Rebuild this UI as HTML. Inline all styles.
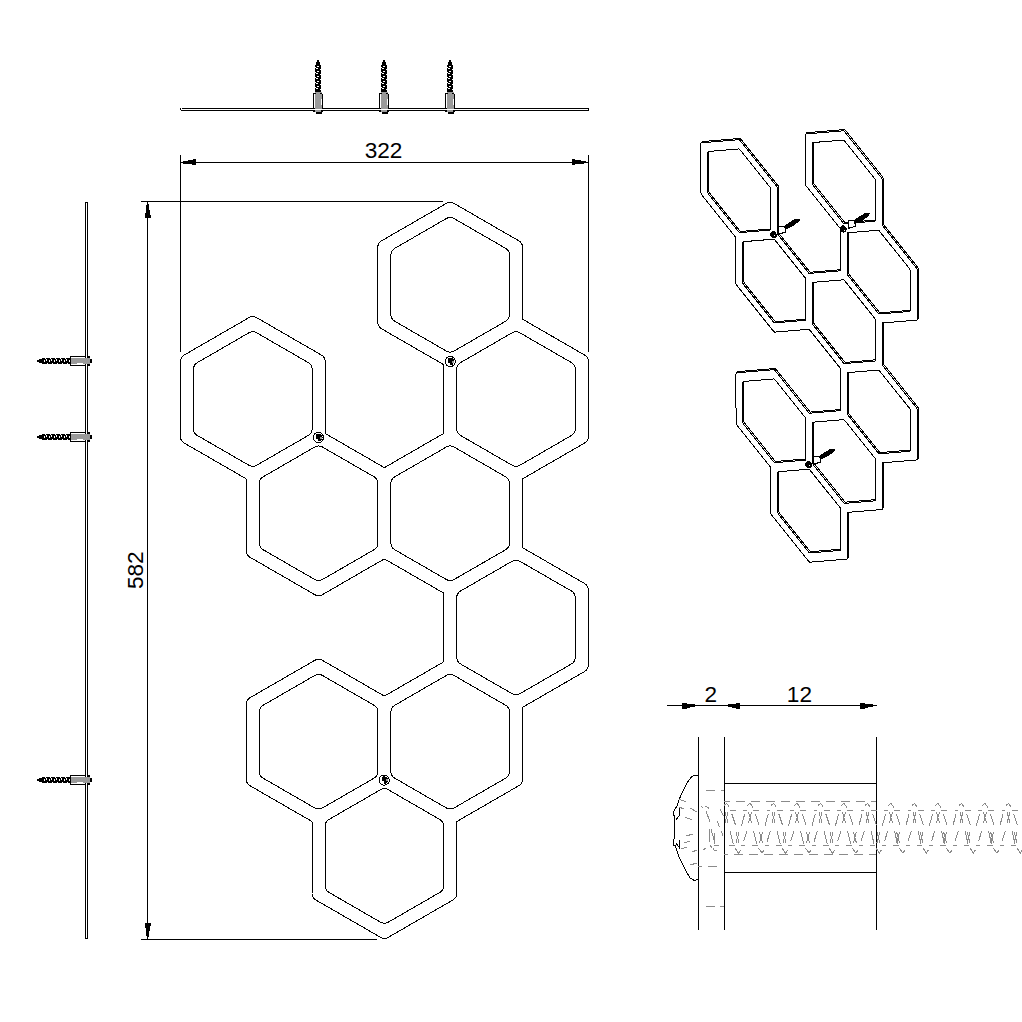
<!DOCTYPE html>
<html><head><meta charset="utf-8"><style>
html,body{margin:0;padding:0;background:#fff;}
svg{display:block;}
</style></head><body>
<svg width="1022" height="1022" viewBox="0 0 1022 1022" shape-rendering="crispEdges" font-family="Liberation Sans, sans-serif">
<rect width="1022" height="1022" fill="#fff"/>
<path d="M184.15,355.06 L182.88,355.99 L181.83,357.15 L181.05,358.51 L180.56,360.00 L180.40,361.56 L180.40,436.50 L180.56,438.06 L181.05,439.55 L181.83,440.91 L182.88,442.07 L184.15,443.00 L245.53,478.43 L245.65,478.51 L245.92,478.75 L246.04,478.92 L246.12,479.10 L246.19,479.46 L246.20,479.59 L246.20,550.73 L246.36,552.29 L246.85,553.78 L247.63,555.14 L248.68,556.30 L249.95,557.23 L314.85,594.70 L316.28,595.33 L317.82,595.66 L319.38,595.66 L320.92,595.33 L322.35,594.70 L383.73,559.26 L383.85,559.19 L384.20,559.08 L384.40,559.06 L384.60,559.08 L384.95,559.19 L385.07,559.26 L442.93,592.66 L443.05,592.74 L443.32,592.98 L443.44,593.15 L443.52,593.33 L443.59,593.69 L443.60,593.82 L443.60,661.16 L443.59,661.29 L443.52,661.65 L443.44,661.83 L443.32,662.00 L443.05,662.24 L442.93,662.32 L385.07,695.72 L384.95,695.79 L384.60,695.90 L384.40,695.92 L384.20,695.90 L383.85,695.79 L383.73,695.72 L322.35,660.28 L320.92,659.65 L319.38,659.32 L317.82,659.32 L316.28,659.65 L314.85,660.28 L249.95,697.75 L248.68,698.68 L247.63,699.84 L246.85,701.20 L246.36,702.69 L246.20,704.25 L246.20,779.19 L246.36,780.75 L246.85,782.24 L247.63,783.60 L248.68,784.76 L249.95,785.69 L311.33,821.12 L311.45,821.20 L311.72,821.44 L311.84,821.61 L311.92,821.79 L311.99,822.15 L312.00,822.28 L312.00,893.42 L312.16,894.98 L312.65,896.47 L313.43,897.83 L314.48,898.99 L315.75,899.92 L380.65,937.39 L382.08,938.02 L383.62,938.35 L385.18,938.35 L386.72,938.02 L388.15,937.39 L453.05,899.92 L454.32,898.99 L455.37,897.83 L456.15,896.47 L456.64,894.98 L456.80,893.42 L456.80,822.28 L456.81,822.15 L456.88,821.79 L456.96,821.61 L457.08,821.44 L457.35,821.20 L457.47,821.12 L518.85,785.69 L520.12,784.76 L521.17,783.60 L521.95,782.24 L522.44,780.75 L522.60,779.19 L522.60,708.05 L522.61,707.92 L522.68,707.56 L522.76,707.38 L522.88,707.21 L523.15,706.97 L523.27,706.89 L584.65,671.46 L585.92,670.53 L586.97,669.37 L587.75,668.01 L588.24,666.52 L588.40,664.96 L588.40,590.02 L588.24,588.46 L587.75,586.97 L586.97,585.61 L585.92,584.45 L584.65,583.52 L523.27,548.09 L523.15,548.01 L522.88,547.77 L522.76,547.60 L522.68,547.42 L522.61,547.06 L522.60,546.93 L522.60,479.59 L522.61,479.46 L522.68,479.10 L522.76,478.92 L522.88,478.75 L523.15,478.51 L523.27,478.43 L584.65,443.00 L585.92,442.07 L586.97,440.91 L587.75,439.55 L588.24,438.06 L588.40,436.50 L588.40,361.56 L588.24,360.00 L587.75,358.51 L586.97,357.15 L585.92,355.99 L584.65,355.06 L523.27,319.63 L523.15,319.55 L522.88,319.31 L522.76,319.14 L522.68,318.96 L522.61,318.60 L522.60,318.47 L522.60,247.33 L522.44,245.77 L521.95,244.28 L521.17,242.92 L520.12,241.76 L518.85,240.83 L453.95,203.36 L452.52,202.73 L450.98,202.40 L449.42,202.40 L447.88,202.73 L446.45,203.36 L381.55,240.83 L380.28,241.76 L379.23,242.92 L378.45,244.28 L377.96,245.77 L377.80,247.33 L377.80,322.27 L377.96,323.83 L378.45,325.32 L379.23,326.68 L380.28,327.84 L381.55,328.77 L442.93,364.20 L443.05,364.28 L443.32,364.52 L443.44,364.69 L443.52,364.87 L443.59,365.23 L443.60,365.36 L443.60,432.70 L443.59,432.83 L443.52,433.19 L443.44,433.37 L443.32,433.54 L443.05,433.78 L442.93,433.86 L385.07,467.26 L384.95,467.33 L384.60,467.44 L384.40,467.46 L384.20,467.44 L383.85,467.33 L383.73,467.26 L325.87,433.86 L325.75,433.78 L325.48,433.54 L325.36,433.37 L325.28,433.19 L325.21,432.83 L325.20,432.70 L325.20,361.56 L325.04,360.00 L324.55,358.51 L323.77,357.15 L322.72,355.99 L321.45,355.06 L256.55,317.59 L255.12,316.96 L253.58,316.63 L252.02,316.63 L250.48,316.96 L249.05,317.59 L184.15,355.06Z M453.95,218.49 L452.52,217.85 L450.98,217.53 L449.42,217.53 L447.88,217.85 L446.45,218.49 L394.65,248.40 L393.38,249.32 L392.33,250.48 L391.55,251.84 L391.06,253.33 L390.90,254.89 L390.90,314.71 L391.06,316.27 L391.55,317.76 L392.33,319.12 L393.38,320.28 L394.65,321.20 L446.45,351.11 L447.88,351.75 L449.42,352.07 L450.98,352.07 L452.52,351.75 L453.95,351.11 L505.75,321.20 L507.02,320.28 L508.07,319.12 L508.85,317.76 L509.34,316.27 L509.50,314.71 L509.50,254.89 L509.34,253.33 L508.85,251.84 L508.07,250.48 L507.02,249.32 L505.75,248.40 L453.95,218.49Z M519.75,332.72 L518.32,332.08 L516.78,331.76 L515.22,331.76 L513.68,332.08 L512.25,332.72 L460.45,362.63 L459.18,363.55 L458.13,364.71 L457.35,366.07 L456.86,367.56 L456.70,369.12 L456.70,428.94 L456.86,430.50 L457.35,431.99 L458.13,433.35 L459.18,434.51 L460.45,435.43 L512.25,465.34 L513.68,465.98 L515.22,466.30 L516.78,466.30 L518.32,465.98 L519.75,465.34 L571.55,435.43 L572.82,434.51 L573.87,433.35 L574.65,431.99 L575.14,430.50 L575.30,428.94 L575.30,369.12 L575.14,367.56 L574.65,366.07 L573.87,364.71 L572.82,363.55 L571.55,362.63 L519.75,332.72Z M256.55,332.72 L255.12,332.08 L253.58,331.76 L252.02,331.76 L250.48,332.08 L249.05,332.72 L197.25,362.63 L195.98,363.55 L194.93,364.71 L194.15,366.07 L193.66,367.56 L193.50,369.12 L193.50,428.94 L193.66,430.50 L194.15,431.99 L194.93,433.35 L195.98,434.51 L197.25,435.43 L249.05,465.34 L250.48,465.98 L252.02,466.30 L253.58,466.30 L255.12,465.98 L256.55,465.34 L308.35,435.43 L309.62,434.51 L310.67,433.35 L311.45,431.99 L311.94,430.50 L312.10,428.94 L312.10,369.12 L311.94,367.56 L311.45,366.07 L310.67,364.71 L309.62,363.55 L308.35,362.63 L256.55,332.72Z M322.35,446.95 L320.92,446.31 L319.38,445.99 L317.82,445.99 L316.28,446.31 L314.85,446.95 L263.05,476.86 L261.78,477.78 L260.73,478.94 L259.95,480.30 L259.46,481.79 L259.30,483.35 L259.30,543.17 L259.46,544.73 L259.95,546.22 L260.73,547.58 L261.78,548.74 L263.05,549.66 L314.85,579.57 L316.28,580.21 L317.82,580.53 L319.38,580.53 L320.92,580.21 L322.35,579.57 L374.15,549.66 L375.42,548.74 L376.47,547.58 L377.25,546.22 L377.74,544.73 L377.90,543.17 L377.90,483.35 L377.74,481.79 L377.25,480.30 L376.47,478.94 L375.42,477.78 L374.15,476.86 L322.35,446.95Z M453.95,446.95 L452.52,446.31 L450.98,445.99 L449.42,445.99 L447.88,446.31 L446.45,446.95 L394.65,476.86 L393.38,477.78 L392.33,478.94 L391.55,480.30 L391.06,481.79 L390.90,483.35 L390.90,543.17 L391.06,544.73 L391.55,546.22 L392.33,547.58 L393.38,548.74 L394.65,549.66 L446.45,579.57 L447.88,580.21 L449.42,580.53 L450.98,580.53 L452.52,580.21 L453.95,579.57 L505.75,549.66 L507.02,548.74 L508.07,547.58 L508.85,546.22 L509.34,544.73 L509.50,543.17 L509.50,483.35 L509.34,481.79 L508.85,480.30 L508.07,478.94 L507.02,477.78 L505.75,476.86 L453.95,446.95Z M519.75,561.18 L518.32,560.54 L516.78,560.22 L515.22,560.22 L513.68,560.54 L512.25,561.18 L460.45,591.09 L459.18,592.01 L458.13,593.17 L457.35,594.53 L456.86,596.02 L456.70,597.58 L456.70,657.40 L456.86,658.96 L457.35,660.45 L458.13,661.81 L459.18,662.97 L460.45,663.89 L512.25,693.80 L513.68,694.44 L515.22,694.76 L516.78,694.76 L518.32,694.44 L519.75,693.80 L571.55,663.89 L572.82,662.97 L573.87,661.81 L574.65,660.45 L575.14,658.96 L575.30,657.40 L575.30,597.58 L575.14,596.02 L574.65,594.53 L573.87,593.17 L572.82,592.01 L571.55,591.09 L519.75,561.18Z M322.35,675.41 L320.92,674.77 L319.38,674.45 L317.82,674.45 L316.28,674.77 L314.85,675.41 L263.05,705.32 L261.78,706.24 L260.73,707.40 L259.95,708.76 L259.46,710.25 L259.30,711.81 L259.30,771.63 L259.46,773.19 L259.95,774.68 L260.73,776.04 L261.78,777.20 L263.05,778.12 L314.85,808.03 L316.28,808.67 L317.82,808.99 L319.38,808.99 L320.92,808.67 L322.35,808.03 L374.15,778.12 L375.42,777.20 L376.47,776.04 L377.25,774.68 L377.74,773.19 L377.90,771.63 L377.90,711.81 L377.74,710.25 L377.25,708.76 L376.47,707.40 L375.42,706.24 L374.15,705.32 L322.35,675.41Z M453.95,675.41 L452.52,674.77 L450.98,674.45 L449.42,674.45 L447.88,674.77 L446.45,675.41 L394.65,705.32 L393.38,706.24 L392.33,707.40 L391.55,708.76 L391.06,710.25 L390.90,711.81 L390.90,771.63 L391.06,773.19 L391.55,774.68 L392.33,776.04 L393.38,777.20 L394.65,778.12 L446.45,808.03 L447.88,808.67 L449.42,808.99 L450.98,808.99 L452.52,808.67 L453.95,808.03 L505.75,778.12 L507.02,777.20 L508.07,776.04 L508.85,774.68 L509.34,773.19 L509.50,771.63 L509.50,711.81 L509.34,710.25 L508.85,708.76 L508.07,707.40 L507.02,706.24 L505.75,705.32 L453.95,675.41Z M388.15,789.64 L386.72,789.00 L385.18,788.68 L383.62,788.68 L382.08,789.00 L380.65,789.64 L328.85,819.55 L327.58,820.47 L326.53,821.63 L325.75,822.99 L325.26,824.48 L325.10,826.04 L325.10,885.86 L325.26,887.42 L325.75,888.91 L326.53,890.27 L327.58,891.43 L328.85,892.35 L380.65,922.26 L382.08,922.90 L383.62,923.22 L385.18,923.22 L386.72,922.90 L388.15,922.26 L439.95,892.35 L441.22,891.43 L442.27,890.27 L443.05,888.91 L443.54,887.42 L443.70,885.86 L443.70,826.04 L443.54,824.48 L443.05,822.99 L442.27,821.63 L441.22,820.47 L439.95,819.55 L388.15,789.64Z" fill="none" stroke="#000" stroke-width="1"/>
<circle cx="318.4" cy="437.5" r="5.1" fill="#fff" stroke="#000" stroke-width="1"/>
<path d="M316.10,434.00 L319.20,433.80 L322.00,435.10 L322.60,437.80 L321.20,440.30 L318.90,441.30 L317.20,439.30 L315.90,437.80Z" fill="#000"/>
<rect x="320" y="437" width="2" height="2" fill="#999" shape-rendering="crispEdges"/>
<rect x="316" y="439" width="2" height="2" fill="#fff" shape-rendering="crispEdges"/>
<circle cx="450.2" cy="361.5" r="5.1" fill="#fff" stroke="#000" stroke-width="1"/>
<path d="M447.90,358.00 L451.00,357.80 L453.80,359.10 L454.40,361.80 L453.00,364.30 L450.70,365.30 L449.00,363.30 L447.70,361.80Z" fill="#000"/>
<rect x="452" y="361" width="2" height="2" fill="#999" shape-rendering="crispEdges"/>
<rect x="448" y="363" width="2" height="2" fill="#fff" shape-rendering="crispEdges"/>
<circle cx="384.2" cy="780.1" r="5.1" fill="#fff" stroke="#000" stroke-width="1"/>
<path d="M381.90,776.60 L385.00,776.40 L387.80,777.70 L388.40,780.40 L387.00,782.90 L384.70,783.90 L383.00,781.90 L381.70,780.40Z" fill="#000"/>
<rect x="386" y="779" width="2" height="2" fill="#999" shape-rendering="crispEdges"/>
<rect x="382" y="781" width="2" height="2" fill="#fff" shape-rendering="crispEdges"/>
<g shape-rendering="crispEdges" fill="#000">
<rect x="180" y="155" width="1" height="197"/>
<rect x="588" y="155" width="1" height="197"/>
<rect x="181" y="162" width="407" height="1"/>
<rect x="183" y="161" width="5" height="3"/><rect x="188" y="160" width="5" height="4"/><rect x="192" y="164" width="4" height="1"/><rect x="193" y="159" width="3" height="6"/>
<rect x="572" y="159" width="3" height="6"/><rect x="575" y="160" width="6" height="4"/><rect x="581" y="161" width="5" height="2"/><rect x="581" y="163" width="3" height="1"/>
<rect x="147" y="202" width="1" height="737"/>
<rect x="141" y="201" width="302" height="1"/>
<rect x="141" y="939" width="236" height="1"/>
<rect x="147" y="204" width="2" height="1"/><rect x="146" y="205" width="3" height="5"/><rect x="146" y="210" width="4" height="3"/><rect x="145" y="213" width="5" height="2"/><rect x="145" y="215" width="6" height="3"/>
<rect x="145" y="923" width="6" height="3"/><rect x="145" y="926" width="5" height="2"/><rect x="146" y="928" width="4" height="3"/><rect x="146" y="931" width="3" height="5"/><rect x="147" y="936" width="2" height="1"/>
</g>
<text x="383.5" y="157.9" font-size="22.6" text-anchor="middle" font-family="Liberation Sans, sans-serif">322</text>
<text transform="translate(143.2,570.2) rotate(-90)" x="0" y="0" font-size="22.6" text-anchor="middle" font-family="Liberation Sans, sans-serif">582</text>
<g shape-rendering="crispEdges">
<rect x="182" y="108" width="406" height="1" fill="#000"/>
<rect x="181" y="110" width="407" height="1" fill="#000"/>
<rect x="180" y="108" width="1" height="2" fill="#000"/>
<rect x="588" y="108" width="1" height="3" fill="#000"/>
<rect x="315" y="92" width="7" height="17" fill="#9a9a9a"/><rect x="321" y="99" width="1" height="6" fill="#fff"/><rect x="317" y="60" width="2" height="2" fill="#000"/><rect x="316" y="62" width="4" height="3" fill="#000"/><rect x="315" y="65" width="6" height="27" fill="#000"/><rect x="317" y="66" width="2" height="1" fill="#fff"/><rect x="315" y="67" width="1" height="1" fill="#fff"/><rect x="316" y="68" width="2" height="1" fill="#fff"/><rect x="320" y="69" width="1" height="1" fill="#fff"/><rect x="317" y="71" width="2" height="1" fill="#fff"/><rect x="315" y="72" width="1" height="1" fill="#fff"/><rect x="316" y="73" width="2" height="1" fill="#fff"/><rect x="320" y="74" width="1" height="1" fill="#fff"/><rect x="317" y="76" width="2" height="1" fill="#fff"/><rect x="315" y="77" width="1" height="1" fill="#fff"/><rect x="316" y="78" width="2" height="1" fill="#fff"/><rect x="320" y="79" width="1" height="1" fill="#fff"/><rect x="317" y="81" width="2" height="1" fill="#fff"/><rect x="315" y="82" width="1" height="1" fill="#fff"/><rect x="316" y="83" width="2" height="1" fill="#fff"/><rect x="320" y="84" width="1" height="1" fill="#fff"/><rect x="317" y="86" width="2" height="1" fill="#fff"/><rect x="315" y="87" width="1" height="1" fill="#fff"/><rect x="316" y="88" width="2" height="1" fill="#fff"/><rect x="320" y="89" width="1" height="1" fill="#fff"/><rect x="313" y="93" width="3" height="1" fill="#000"/><rect x="313" y="93" width="1" height="15" fill="#000"/><rect x="322" y="94" width="1" height="14" fill="#000"/><rect x="320" y="93" width="2" height="1" fill="#000"/><rect x="313" y="110" width="2" height="2" fill="#000"/><rect x="321" y="110" width="2" height="2" fill="#000"/><rect x="316" y="112" width="6" height="2" fill="#000"/><rect x="315" y="110" width="6" height="2" fill="#9a9a9a"/>
<rect x="381" y="92" width="7" height="17" fill="#9a9a9a"/><rect x="387" y="99" width="1" height="6" fill="#fff"/><rect x="383" y="60" width="2" height="2" fill="#000"/><rect x="382" y="62" width="4" height="3" fill="#000"/><rect x="381" y="65" width="6" height="27" fill="#000"/><rect x="383" y="66" width="2" height="1" fill="#fff"/><rect x="381" y="67" width="1" height="1" fill="#fff"/><rect x="382" y="68" width="2" height="1" fill="#fff"/><rect x="386" y="69" width="1" height="1" fill="#fff"/><rect x="383" y="71" width="2" height="1" fill="#fff"/><rect x="381" y="72" width="1" height="1" fill="#fff"/><rect x="382" y="73" width="2" height="1" fill="#fff"/><rect x="386" y="74" width="1" height="1" fill="#fff"/><rect x="383" y="76" width="2" height="1" fill="#fff"/><rect x="381" y="77" width="1" height="1" fill="#fff"/><rect x="382" y="78" width="2" height="1" fill="#fff"/><rect x="386" y="79" width="1" height="1" fill="#fff"/><rect x="383" y="81" width="2" height="1" fill="#fff"/><rect x="381" y="82" width="1" height="1" fill="#fff"/><rect x="382" y="83" width="2" height="1" fill="#fff"/><rect x="386" y="84" width="1" height="1" fill="#fff"/><rect x="383" y="86" width="2" height="1" fill="#fff"/><rect x="381" y="87" width="1" height="1" fill="#fff"/><rect x="382" y="88" width="2" height="1" fill="#fff"/><rect x="386" y="89" width="1" height="1" fill="#fff"/><rect x="379" y="93" width="3" height="1" fill="#000"/><rect x="379" y="93" width="1" height="15" fill="#000"/><rect x="388" y="94" width="1" height="14" fill="#000"/><rect x="386" y="93" width="2" height="1" fill="#000"/><rect x="379" y="110" width="2" height="2" fill="#000"/><rect x="387" y="110" width="2" height="2" fill="#000"/><rect x="382" y="112" width="6" height="2" fill="#000"/><rect x="381" y="110" width="6" height="2" fill="#9a9a9a"/>
<rect x="447" y="92" width="7" height="17" fill="#9a9a9a"/><rect x="453" y="99" width="1" height="6" fill="#fff"/><rect x="449" y="60" width="2" height="2" fill="#000"/><rect x="448" y="62" width="4" height="3" fill="#000"/><rect x="447" y="65" width="6" height="27" fill="#000"/><rect x="449" y="66" width="2" height="1" fill="#fff"/><rect x="447" y="67" width="1" height="1" fill="#fff"/><rect x="448" y="68" width="2" height="1" fill="#fff"/><rect x="452" y="69" width="1" height="1" fill="#fff"/><rect x="449" y="71" width="2" height="1" fill="#fff"/><rect x="447" y="72" width="1" height="1" fill="#fff"/><rect x="448" y="73" width="2" height="1" fill="#fff"/><rect x="452" y="74" width="1" height="1" fill="#fff"/><rect x="449" y="76" width="2" height="1" fill="#fff"/><rect x="447" y="77" width="1" height="1" fill="#fff"/><rect x="448" y="78" width="2" height="1" fill="#fff"/><rect x="452" y="79" width="1" height="1" fill="#fff"/><rect x="449" y="81" width="2" height="1" fill="#fff"/><rect x="447" y="82" width="1" height="1" fill="#fff"/><rect x="448" y="83" width="2" height="1" fill="#fff"/><rect x="452" y="84" width="1" height="1" fill="#fff"/><rect x="449" y="86" width="2" height="1" fill="#fff"/><rect x="447" y="87" width="1" height="1" fill="#fff"/><rect x="448" y="88" width="2" height="1" fill="#fff"/><rect x="452" y="89" width="1" height="1" fill="#fff"/><rect x="445" y="93" width="3" height="1" fill="#000"/><rect x="445" y="93" width="1" height="15" fill="#000"/><rect x="454" y="94" width="1" height="14" fill="#000"/><rect x="452" y="93" width="2" height="1" fill="#000"/><rect x="445" y="110" width="2" height="2" fill="#000"/><rect x="453" y="110" width="2" height="2" fill="#000"/><rect x="448" y="112" width="6" height="2" fill="#000"/><rect x="447" y="110" width="6" height="2" fill="#9a9a9a"/>
</g>
<g shape-rendering="crispEdges">
<rect x="85" y="202" width="1" height="737" fill="#000"/>
<rect x="87" y="202" width="1" height="737" fill="#000"/>
<rect x="85" y="202" width="3" height="1" fill="#000"/>
<rect x="85" y="938" width="3" height="1" fill="#000"/>
<rect x="71" y="358" width="19" height="6" fill="#9a9a9a"/><rect x="77" y="363" width="6" height="1" fill="#fff"/><rect x="37" y="360" width="2" height="2" fill="#000"/><rect x="39" y="359" width="3" height="4" fill="#000"/><rect x="42" y="358" width="28" height="6" fill="#000"/><rect x="44" y="360" width="1" height="2" fill="#fff"/><rect x="45" y="358" width="1" height="1" fill="#fff"/><rect x="46" y="359" width="1" height="2" fill="#fff"/><rect x="47" y="363" width="1" height="1" fill="#fff"/><rect x="49" y="360" width="1" height="2" fill="#fff"/><rect x="50" y="358" width="1" height="1" fill="#fff"/><rect x="51" y="359" width="1" height="2" fill="#fff"/><rect x="52" y="363" width="1" height="1" fill="#fff"/><rect x="54" y="360" width="1" height="2" fill="#fff"/><rect x="55" y="358" width="1" height="1" fill="#fff"/><rect x="56" y="359" width="1" height="2" fill="#fff"/><rect x="57" y="363" width="1" height="1" fill="#fff"/><rect x="59" y="360" width="1" height="2" fill="#fff"/><rect x="60" y="358" width="1" height="1" fill="#fff"/><rect x="61" y="359" width="1" height="2" fill="#fff"/><rect x="62" y="363" width="1" height="1" fill="#fff"/><rect x="64" y="360" width="1" height="2" fill="#fff"/><rect x="65" y="358" width="1" height="1" fill="#fff"/><rect x="66" y="359" width="1" height="2" fill="#fff"/><rect x="67" y="363" width="1" height="1" fill="#fff"/><rect x="69" y="360" width="1" height="2" fill="#fff"/><rect x="70" y="358" width="1" height="1" fill="#fff"/><rect x="70" y="356" width="16" height="1" fill="#000"/><rect x="70" y="365" width="16" height="1" fill="#000"/><rect x="70" y="356" width="1" height="10" fill="#000"/><rect x="88" y="356" width="2" height="2" fill="#000"/><rect x="88" y="364" width="2" height="2" fill="#000"/><rect x="90" y="359" width="2" height="4" fill="#000"/><rect x="88" y="358" width="2" height="6" fill="#9a9a9a"/>
<rect x="71" y="434" width="19" height="6" fill="#9a9a9a"/><rect x="77" y="439" width="6" height="1" fill="#fff"/><rect x="37" y="436" width="2" height="2" fill="#000"/><rect x="39" y="435" width="3" height="4" fill="#000"/><rect x="42" y="434" width="28" height="6" fill="#000"/><rect x="44" y="436" width="1" height="2" fill="#fff"/><rect x="45" y="434" width="1" height="1" fill="#fff"/><rect x="46" y="435" width="1" height="2" fill="#fff"/><rect x="47" y="439" width="1" height="1" fill="#fff"/><rect x="49" y="436" width="1" height="2" fill="#fff"/><rect x="50" y="434" width="1" height="1" fill="#fff"/><rect x="51" y="435" width="1" height="2" fill="#fff"/><rect x="52" y="439" width="1" height="1" fill="#fff"/><rect x="54" y="436" width="1" height="2" fill="#fff"/><rect x="55" y="434" width="1" height="1" fill="#fff"/><rect x="56" y="435" width="1" height="2" fill="#fff"/><rect x="57" y="439" width="1" height="1" fill="#fff"/><rect x="59" y="436" width="1" height="2" fill="#fff"/><rect x="60" y="434" width="1" height="1" fill="#fff"/><rect x="61" y="435" width="1" height="2" fill="#fff"/><rect x="62" y="439" width="1" height="1" fill="#fff"/><rect x="64" y="436" width="1" height="2" fill="#fff"/><rect x="65" y="434" width="1" height="1" fill="#fff"/><rect x="66" y="435" width="1" height="2" fill="#fff"/><rect x="67" y="439" width="1" height="1" fill="#fff"/><rect x="69" y="436" width="1" height="2" fill="#fff"/><rect x="70" y="434" width="1" height="1" fill="#fff"/><rect x="70" y="432" width="16" height="1" fill="#000"/><rect x="70" y="441" width="16" height="1" fill="#000"/><rect x="70" y="432" width="1" height="10" fill="#000"/><rect x="88" y="432" width="2" height="2" fill="#000"/><rect x="88" y="440" width="2" height="2" fill="#000"/><rect x="90" y="435" width="2" height="4" fill="#000"/><rect x="88" y="434" width="2" height="6" fill="#9a9a9a"/>
<rect x="71" y="777" width="19" height="6" fill="#9a9a9a"/><rect x="77" y="782" width="6" height="1" fill="#fff"/><rect x="37" y="779" width="2" height="2" fill="#000"/><rect x="39" y="778" width="3" height="4" fill="#000"/><rect x="42" y="777" width="28" height="6" fill="#000"/><rect x="44" y="779" width="1" height="2" fill="#fff"/><rect x="45" y="777" width="1" height="1" fill="#fff"/><rect x="46" y="778" width="1" height="2" fill="#fff"/><rect x="47" y="782" width="1" height="1" fill="#fff"/><rect x="49" y="779" width="1" height="2" fill="#fff"/><rect x="50" y="777" width="1" height="1" fill="#fff"/><rect x="51" y="778" width="1" height="2" fill="#fff"/><rect x="52" y="782" width="1" height="1" fill="#fff"/><rect x="54" y="779" width="1" height="2" fill="#fff"/><rect x="55" y="777" width="1" height="1" fill="#fff"/><rect x="56" y="778" width="1" height="2" fill="#fff"/><rect x="57" y="782" width="1" height="1" fill="#fff"/><rect x="59" y="779" width="1" height="2" fill="#fff"/><rect x="60" y="777" width="1" height="1" fill="#fff"/><rect x="61" y="778" width="1" height="2" fill="#fff"/><rect x="62" y="782" width="1" height="1" fill="#fff"/><rect x="64" y="779" width="1" height="2" fill="#fff"/><rect x="65" y="777" width="1" height="1" fill="#fff"/><rect x="66" y="778" width="1" height="2" fill="#fff"/><rect x="67" y="782" width="1" height="1" fill="#fff"/><rect x="69" y="779" width="1" height="2" fill="#fff"/><rect x="70" y="777" width="1" height="1" fill="#fff"/><rect x="70" y="775" width="16" height="1" fill="#000"/><rect x="70" y="784" width="16" height="1" fill="#000"/><rect x="70" y="775" width="1" height="10" fill="#000"/><rect x="88" y="775" width="2" height="2" fill="#000"/><rect x="88" y="783" width="2" height="2" fill="#000"/><rect x="90" y="778" width="2" height="4" fill="#000"/><rect x="88" y="777" width="2" height="6" fill="#9a9a9a"/>
</g>
<path d="M702.07,141.98 L702.01,142.02 L701.87,142.22 L701.81,142.26 L701.67,142.46 L701.61,142.50 L701.47,142.70 L701.41,142.74 L701.27,142.94 L701.21,142.98 L701.05,143.22 L700.94,143.52 L700.91,143.89 L700.96,192.92 L700.99,193.33 L701.10,193.75 L701.26,194.18 L701.49,194.59 L701.75,194.98 L735.55,237.19 L735.61,237.27 L735.71,237.43 L735.77,237.57 L735.82,237.71 L735.85,237.88 L735.85,237.97 L735.89,283.16 L735.93,283.56 L736.03,283.99 L736.20,284.42 L736.42,284.83 L736.69,285.21 L773.49,331.18 L773.79,331.52 L774.12,331.78 L774.45,331.98 L774.78,332.09 L775.08,332.11 L808.83,329.29 L808.90,329.29 L809.02,329.32 L809.13,329.37 L809.24,329.44 L809.37,329.56 L809.43,329.64 L840.22,368.10 L840.28,368.18 L840.38,368.34 L840.45,368.48 L840.49,368.62 L840.52,368.79 L840.52,368.88 L840.56,409.51 L810.51,412.02 L810.45,412.02 L810.32,411.99 L810.21,411.94 L810.10,411.87 L809.98,411.75 L809.91,411.67 L776.12,369.46 L775.81,369.12 L775.49,368.85 L775.16,368.66 L774.83,368.55 L774.53,368.53 L737.78,371.60 L737.51,371.67 L737.28,371.82 L737.15,372.02 L737.08,372.06 L736.95,372.26 L736.88,372.30 L736.75,372.50 L736.68,372.54 L736.55,372.74 L736.48,372.78 L736.35,372.98 L736.28,373.02 L736.12,373.26 L736.02,373.56 L735.98,373.92 L736.03,422.96 L736.06,423.36 L736.17,423.79 L736.33,424.22 L736.56,424.63 L736.83,425.02 L770.62,467.23 L770.68,467.31 L770.78,467.47 L770.85,467.61 L770.89,467.75 L770.92,467.92 L770.92,468.01 L770.97,513.20 L771.00,513.60 L771.10,514.03 L771.27,514.46 L771.49,514.87 L771.76,515.25 L808.56,561.22 L808.87,561.55 L809.19,561.82 L809.52,562.02 L809.85,562.13 L810.15,562.15 L846.90,559.08 L847.17,559.01 L847.39,558.85 L847.53,558.66 L847.59,558.61 L847.73,558.42 L847.79,558.37 L847.93,558.18 L847.99,558.13 L848.13,557.94 L848.19,557.89 L848.33,557.70 L848.39,557.65 L848.56,557.42 L848.66,557.11 L848.70,556.75 L848.65,512.27 L881.70,509.51 L881.97,509.44 L882.19,509.29 L882.33,509.09 L882.39,509.05 L882.53,508.85 L882.59,508.81 L882.73,508.61 L882.79,508.57 L882.93,508.37 L882.99,508.33 L883.13,508.13 L883.19,508.09 L883.36,507.85 L883.46,507.55 L883.50,507.19 L883.45,462.71 L916.50,459.95 L916.77,459.88 L916.99,459.72 L917.13,459.53 L917.19,459.48 L917.33,459.29 L917.39,459.24 L917.53,459.05 L917.59,459.00 L917.73,458.81 L917.79,458.76 L917.93,458.57 L917.99,458.52 L918.16,458.29 L918.26,457.98 L918.30,457.62 L918.25,408.58 L918.21,408.18 L918.11,407.76 L917.94,407.33 L917.72,406.91 L917.45,406.53 L883.66,364.32 L883.60,364.24 L883.50,364.07 L883.43,363.93 L883.39,363.79 L883.36,363.63 L883.36,363.54 L883.32,322.91 L916.37,320.15 L916.64,320.08 L916.86,319.92 L917.00,319.73 L917.06,319.68 L917.20,319.49 L917.26,319.44 L917.40,319.25 L917.46,319.20 L917.60,319.01 L917.66,318.96 L917.80,318.77 L917.86,318.72 L918.02,318.49 L918.13,318.18 L918.16,317.82 L918.11,268.78 L918.08,268.38 L917.98,267.96 L917.81,267.53 L917.59,267.11 L917.32,266.73 L883.52,224.52 L883.46,224.43 L883.36,224.27 L883.30,224.13 L883.25,223.99 L883.23,223.83 L883.22,223.74 L883.18,178.55 L883.14,178.14 L883.04,177.72 L882.87,177.29 L882.65,176.87 L882.38,176.49 L845.58,130.52 L845.28,130.19 L844.95,129.92 L844.62,129.73 L844.30,129.62 L843.99,129.60 L807.24,132.67 L806.97,132.74 L806.75,132.89 L806.61,133.09 L806.55,133.13 L806.41,133.33 L806.35,133.37 L806.21,133.57 L806.15,133.61 L806.01,133.81 L805.95,133.85 L805.81,134.05 L805.75,134.09 L805.58,134.33 L805.48,134.63 L805.45,134.99 L805.49,184.03 L805.53,184.43 L805.63,184.86 L805.80,185.29 L806.02,185.70 L806.29,186.08 L840.08,228.30 L840.15,228.38 L840.25,228.54 L840.31,228.68 L840.35,228.82 L840.38,228.99 L840.39,229.08 L840.43,269.71 L810.38,272.22 L810.31,272.22 L810.19,272.19 L810.08,272.14 L809.97,272.07 L809.84,271.94 L809.78,271.87 L778.99,233.41 L778.92,233.33 L778.83,233.17 L778.76,233.03 L778.72,232.88 L778.69,232.72 L778.69,232.63 L778.64,187.44 L778.61,187.04 L778.50,186.61 L778.34,186.18 L778.11,185.77 L777.84,185.38 L741.05,139.42 L740.74,139.08 L740.42,138.81 L740.08,138.62 L739.76,138.51 L739.46,138.49 L702.70,141.56 L702.43,141.63 L702.21,141.78 L702.07,141.98Z M845.67,222.52 L845.37,222.50 L845.04,222.39 L844.71,222.20 L844.38,221.93 L844.08,221.60 L814.23,184.31 L813.96,183.92 L813.74,183.51 L813.57,183.08 L813.47,182.65 L813.43,182.25 L813.39,142.53 L843.00,140.05 L843.30,140.07 L843.63,140.18 L843.96,140.38 L844.29,140.65 L844.59,140.98 L874.44,178.27 L874.71,178.65 L874.94,179.07 L875.10,179.50 L875.20,179.92 L875.24,180.32 L875.28,220.05 L845.67,222.52Z M741.13,231.42 L740.83,231.39 L740.51,231.28 L740.17,231.09 L739.85,230.82 L739.54,230.49 L709.69,193.20 L709.42,192.82 L709.20,192.40 L709.03,191.97 L708.93,191.55 L708.90,191.14 L708.86,151.42 L738.46,148.95 L738.77,148.97 L739.09,149.08 L739.43,149.27 L739.75,149.54 L740.05,149.87 L769.91,187.16 L770.18,187.55 L770.40,187.96 L770.57,188.39 L770.67,188.82 L770.70,189.22 L770.74,228.94 L741.13,231.42Z M880.61,312.76 L880.30,312.74 L879.98,312.63 L879.65,312.44 L879.32,312.17 L879.02,311.83 L849.16,274.54 L848.89,274.16 L848.67,273.75 L848.51,273.32 L848.40,272.89 L848.37,272.49 L848.33,232.76 L877.94,230.29 L878.24,230.31 L878.57,230.42 L878.90,230.62 L879.22,230.88 L879.53,231.22 L909.38,268.51 L909.65,268.89 L909.87,269.31 L910.04,269.74 L910.14,270.16 L910.18,270.56 L910.21,310.29 L880.61,312.76Z M776.07,321.65 L775.77,321.63 L775.44,321.52 L775.11,321.33 L774.78,321.06 L774.48,320.73 L744.63,283.43 L744.36,283.05 L744.14,282.64 L743.97,282.21 L743.87,281.78 L743.83,281.38 L743.79,241.66 L773.40,239.18 L773.70,239.20 L774.03,239.31 L774.36,239.51 L774.69,239.78 L774.99,240.11 L804.84,277.40 L805.11,277.78 L805.34,278.20 L805.50,278.63 L805.60,279.05 L805.64,279.45 L805.68,319.18 L776.07,321.65Z M845.81,362.33 L845.50,362.30 L845.18,362.19 L844.85,362.00 L844.52,361.73 L844.22,361.40 L814.36,324.11 L814.09,323.72 L813.87,323.31 L813.71,322.88 L813.60,322.46 L813.57,322.05 L813.53,282.33 L843.14,279.86 L843.44,279.88 L843.77,279.99 L844.10,280.18 L844.42,280.45 L844.73,280.78 L874.58,318.07 L874.85,318.46 L875.07,318.87 L875.24,319.30 L875.34,319.72 L875.38,320.13 L875.41,359.85 L845.81,362.33Z M880.74,452.56 L880.44,452.54 L880.11,452.43 L879.78,452.24 L879.46,451.97 L879.15,451.63 L849.30,414.34 L849.03,413.96 L848.81,413.55 L848.64,413.12 L848.54,412.69 L848.50,412.29 L848.46,372.57 L878.07,370.09 L878.38,370.11 L878.70,370.22 L879.03,370.42 L879.36,370.69 L879.66,371.02 L909.52,408.31 L909.78,408.69 L910.01,409.11 L910.17,409.54 L910.28,409.96 L910.31,410.36 L910.35,450.09 L880.74,452.56Z M776.21,461.45 L775.90,461.43 L775.58,461.32 L775.25,461.13 L774.92,460.86 L774.62,460.53 L744.76,423.24 L744.49,422.85 L744.27,422.44 L744.11,422.01 L744.00,421.59 L743.97,421.18 L743.93,381.46 L773.54,378.98 L773.84,379.01 L774.16,379.12 L774.50,379.31 L774.82,379.58 L775.13,379.91 L804.98,417.20 L805.25,417.59 L805.47,418.00 L805.64,418.43 L805.74,418.85 L805.78,419.26 L805.81,458.98 L776.21,461.45Z M845.94,502.13 L845.64,502.11 L845.31,502.00 L844.98,501.80 L844.66,501.53 L844.35,501.20 L814.50,463.91 L814.23,463.53 L814.01,463.11 L813.84,462.68 L813.74,462.26 L813.70,461.86 L813.66,422.13 L843.27,419.66 L843.58,419.68 L843.90,419.79 L844.23,419.98 L844.56,420.25 L844.86,420.58 L874.72,457.88 L874.98,458.26 L875.21,458.67 L875.37,459.10 L875.48,459.53 L875.51,459.93 L875.55,499.65 L845.94,502.13Z M811.14,551.69 L810.84,551.67 L810.51,551.56 L810.18,551.37 L809.86,551.10 L809.55,550.76 L779.70,513.47 L779.43,513.09 L779.21,512.68 L779.04,512.25 L778.94,511.82 L778.90,511.42 L778.86,471.70 L808.47,469.22 L808.78,469.24 L809.10,469.35 L809.43,469.55 L809.76,469.82 L810.06,470.15 L839.92,507.44 L840.18,507.82 L840.41,508.24 L840.57,508.67 L840.68,509.09 L840.71,509.49 L840.75,549.22 L811.14,551.69Z" fill="none" stroke="#000" stroke-width="1"/>
<path d="M701.43,142.83 L701.21,142.98 L701.05,143.22 L700.94,143.52 L700.91,143.89 L700.96,192.92 L700.99,193.33 L701.10,193.75 L701.26,194.18 L701.49,194.59 L701.75,194.98 L735.55,237.19 L735.61,237.27 L735.71,237.43 L735.77,237.57 L735.82,237.71 L735.85,237.88 L735.85,237.97 L735.89,283.16 L735.93,283.56 L736.03,283.99 L736.20,284.42 L736.42,284.83 L736.69,285.21 L773.49,331.18 L773.79,331.52 L774.12,331.78 L774.45,331.98 L774.78,332.09 L775.08,332.11 L808.83,329.29 L808.90,329.29 L809.02,329.32 L809.13,329.37 L809.24,329.44 L809.37,329.56 L809.43,329.64 L840.22,368.10 L840.28,368.18 L840.38,368.34 L840.45,368.48 L840.49,368.62 L840.52,368.79 L840.52,368.88 L840.56,410.22 L840.56,410.31 L840.53,410.44 L840.49,410.53 L840.42,410.60 L840.32,410.64 L840.26,410.65 L809.51,413.22 L809.45,413.22 L809.32,413.19 L809.21,413.14 L809.10,413.07 L808.98,412.95 L808.91,412.87 L775.12,370.66 L774.81,370.32 L774.49,370.05 L774.16,369.86 L773.83,369.75 L773.53,369.73 L736.78,372.80 L736.51,372.87 L736.28,373.02 L736.12,373.26 L736.02,373.56 L735.98,373.92 L736.03,422.96 L736.06,423.36 L736.17,423.79 L736.33,424.22 L736.56,424.63 L736.83,425.02 L770.62,467.23 L770.68,467.31 L770.78,467.47 L770.85,467.61 L770.89,467.75 L770.92,467.92 L770.92,468.01 L770.97,513.20 L771.00,513.60 L771.10,514.03 L771.27,514.46 L771.49,514.87 L771.76,515.25 L808.56,561.22 L808.87,561.55 L809.19,561.82 L809.52,562.02 L809.85,562.13 L810.15,562.15 L846.90,559.08 L847.17,559.01 L847.39,558.85 L847.56,558.62 L847.66,558.31 L847.70,557.95 L847.65,512.76 L847.66,512.68 L847.68,512.54 L847.73,512.45 L847.79,512.39 L847.89,512.34 L847.95,512.33 L881.70,509.51 L881.97,509.44 L882.19,509.29 L882.36,509.05 L882.46,508.75 L882.50,508.39 L882.45,463.19 L882.46,463.11 L882.48,462.98 L882.53,462.89 L882.59,462.82 L882.69,462.78 L882.75,462.77 L916.50,459.95 L916.77,459.88 L916.99,459.72 L917.16,459.49 L917.26,459.18 L917.30,458.82 L917.25,409.78 L917.21,409.38 L917.11,408.96 L916.94,408.53 L916.72,408.11 L916.45,407.73 L882.66,365.52 L882.60,365.44 L882.50,365.27 L882.43,365.13 L882.39,364.99 L882.36,364.83 L882.36,364.74 L882.32,323.39 L882.32,323.31 L882.35,323.18 L882.39,323.09 L882.46,323.02 L882.56,322.98 L882.62,322.97 L916.37,320.15 L916.64,320.08 L916.86,319.92 L917.02,319.69 L917.13,319.38 L917.16,319.02 L917.11,269.98 L917.08,269.58 L916.98,269.16 L916.81,268.73 L916.59,268.31 L916.32,267.93 L882.52,225.72 L882.46,225.63 L882.36,225.47 L882.30,225.33 L882.25,225.19 L882.23,225.03 L882.22,224.94 L882.18,179.75 L882.14,179.34 L882.04,178.92 L881.87,178.49 L881.65,178.07 L881.38,177.69 L844.58,131.72 L844.28,131.39 L843.95,131.12 L843.62,130.93 L843.30,130.82 L842.99,130.80 L806.24,133.87 L805.97,133.94 L805.75,134.09 L805.58,134.33 L805.48,134.63 L805.45,134.99 L805.49,184.03 L805.53,184.43 L805.63,184.86 L805.80,185.29 L806.02,185.70 L806.29,186.08 L840.08,228.30 L840.15,228.38 L840.25,228.54 L840.31,228.68 L840.35,228.82 L840.38,228.99 L840.39,229.08 L840.43,270.42 L840.42,270.51 L840.40,270.64 L840.35,270.73 L840.29,270.79 L840.19,270.84 L840.13,270.85 L809.38,273.42 L809.31,273.42 L809.19,273.39 L809.08,273.34 L808.97,273.27 L808.84,273.14 L808.78,273.07 L777.99,234.61 L777.92,234.53 L777.83,234.37 L777.76,234.23 L777.72,234.08 L777.69,233.92 L777.69,233.83 L777.64,188.64 L777.61,188.24 L777.50,187.81 L777.34,187.38 L777.11,186.97 L776.84,186.58 L740.05,140.62 L739.74,140.28 L739.42,140.01 L739.08,139.82 L738.76,139.71 L738.46,139.69 L701.70,142.76 L701.43,142.83Z M843.96,140.38 L844.29,140.65 L844.59,140.98 L874.44,178.27 L874.71,178.65 L874.94,179.07 L875.10,179.50 L875.20,179.92 L875.24,180.32 L875.28,220.11 L875.24,220.47 L875.14,220.77 L874.98,221.01 L874.75,221.16 L874.49,221.23 L844.67,223.72 L844.37,223.70 L844.04,223.59 L843.71,223.40 L843.38,223.13 L843.08,222.80 L813.23,185.51 L812.96,185.12 L812.74,184.71 L812.57,184.28 L812.47,183.85 L812.43,183.45 L812.39,143.67 L812.43,143.31 L812.53,143.00 L812.70,142.77 L812.92,142.61 L813.19,142.54 L843.00,140.05 L843.30,140.07 L843.63,140.18 L843.96,140.38Z M739.43,149.27 L739.75,149.54 L740.05,149.87 L769.91,187.16 L770.18,187.55 L770.40,187.96 L770.57,188.39 L770.67,188.82 L770.70,189.22 L770.74,229.00 L770.71,229.36 L770.61,229.67 L770.44,229.90 L770.22,230.06 L769.95,230.13 L740.13,232.62 L739.83,232.59 L739.51,232.48 L739.17,232.29 L738.85,232.02 L738.54,231.69 L708.69,194.40 L708.42,194.02 L708.20,193.60 L708.03,193.17 L707.93,192.75 L707.90,192.34 L707.86,152.56 L707.89,152.20 L707.99,151.90 L708.16,151.66 L708.38,151.51 L708.65,151.44 L738.46,148.95 L738.77,148.97 L739.09,149.08 L739.43,149.27Z M878.90,230.62 L879.22,230.88 L879.53,231.22 L909.38,268.51 L909.65,268.89 L909.87,269.31 L910.04,269.74 L910.14,270.16 L910.18,270.56 L910.21,310.34 L910.18,310.70 L910.08,311.01 L909.91,311.25 L909.69,311.40 L909.42,311.47 L879.61,313.96 L879.30,313.94 L878.98,313.83 L878.65,313.64 L878.32,313.37 L878.02,313.03 L848.16,275.74 L847.89,275.36 L847.67,274.95 L847.51,274.52 L847.40,274.09 L847.37,273.69 L847.33,233.91 L847.36,233.55 L847.47,233.24 L847.63,233.01 L847.85,232.85 L848.12,232.78 L877.94,230.29 L878.24,230.31 L878.57,230.42 L878.90,230.62Z M774.36,239.51 L774.69,239.78 L774.99,240.11 L804.84,277.40 L805.11,277.78 L805.34,278.20 L805.50,278.63 L805.60,279.05 L805.64,279.45 L805.68,319.24 L805.64,319.60 L805.54,319.90 L805.38,320.14 L805.15,320.29 L804.89,320.36 L775.07,322.85 L774.77,322.83 L774.44,322.72 L774.11,322.53 L773.78,322.26 L773.48,321.93 L743.63,284.63 L743.36,284.25 L743.14,283.84 L742.97,283.41 L742.87,282.98 L742.83,282.58 L742.79,242.80 L742.83,242.44 L742.93,242.13 L743.10,241.90 L743.32,241.74 L743.59,241.67 L773.40,239.18 L773.70,239.20 L774.03,239.31 L774.36,239.51Z M844.10,280.18 L844.42,280.45 L844.73,280.78 L874.58,318.07 L874.85,318.46 L875.07,318.87 L875.24,319.30 L875.34,319.72 L875.38,320.13 L875.41,359.91 L875.38,360.27 L875.28,360.57 L875.11,360.81 L874.89,360.97 L874.62,361.03 L844.81,363.53 L844.50,363.50 L844.18,363.39 L843.85,363.20 L843.52,362.93 L843.22,362.60 L813.36,325.31 L813.09,324.92 L812.87,324.51 L812.71,324.08 L812.60,323.66 L812.57,323.25 L812.53,283.47 L812.56,283.11 L812.67,282.81 L812.83,282.57 L813.05,282.41 L813.32,282.35 L843.14,279.86 L843.44,279.88 L843.77,279.99 L844.10,280.18Z M879.03,370.42 L879.36,370.69 L879.66,371.02 L909.52,408.31 L909.78,408.69 L910.01,409.11 L910.17,409.54 L910.28,409.96 L910.31,410.36 L910.35,450.15 L910.32,450.51 L910.21,450.81 L910.05,451.05 L909.83,451.20 L909.56,451.27 L879.74,453.76 L879.44,453.74 L879.11,453.63 L878.78,453.44 L878.46,453.17 L878.15,452.83 L848.30,415.54 L848.03,415.16 L847.81,414.75 L847.64,414.32 L847.54,413.89 L847.50,413.49 L847.46,373.71 L847.50,373.35 L847.60,373.04 L847.77,372.81 L847.99,372.65 L848.26,372.58 L878.07,370.09 L878.38,370.11 L878.70,370.22 L879.03,370.42Z M774.50,379.31 L774.82,379.58 L775.13,379.91 L804.98,417.20 L805.25,417.59 L805.47,418.00 L805.64,418.43 L805.74,418.85 L805.78,419.26 L805.81,459.04 L805.78,459.40 L805.68,459.70 L805.51,459.94 L805.29,460.10 L805.02,460.16 L775.21,462.65 L774.90,462.63 L774.58,462.52 L774.25,462.33 L773.92,462.06 L773.62,461.73 L743.76,424.44 L743.49,424.05 L743.27,423.64 L743.11,423.21 L743.00,422.79 L742.97,422.38 L742.93,382.60 L742.96,382.24 L743.07,381.94 L743.23,381.70 L743.45,381.54 L743.72,381.48 L773.54,378.98 L773.84,379.01 L774.16,379.12 L774.50,379.31Z M843.90,419.79 L844.23,419.98 L844.56,420.25 L844.86,420.58 L874.72,457.88 L874.98,458.26 L875.21,458.67 L875.37,459.10 L875.48,459.53 L875.51,459.93 L875.55,499.71 L875.52,500.07 L875.41,500.38 L875.25,500.61 L875.03,500.77 L874.76,500.84 L844.94,503.33 L844.64,503.31 L844.31,503.20 L843.98,503.00 L843.66,502.73 L843.35,502.40 L813.50,465.11 L813.23,464.73 L813.01,464.31 L812.84,463.88 L812.74,463.46 L812.70,463.06 L812.66,423.27 L812.70,422.91 L812.80,422.61 L812.97,422.37 L813.19,422.22 L813.46,422.15 L843.27,419.66 L843.58,419.68 L843.90,419.79Z M809.10,469.35 L809.43,469.55 L809.76,469.82 L810.06,470.15 L839.92,507.44 L840.18,507.82 L840.41,508.24 L840.57,508.67 L840.68,509.09 L840.71,509.49 L840.75,549.27 L840.72,549.64 L840.61,549.94 L840.45,550.18 L840.23,550.33 L839.96,550.40 L810.14,552.89 L809.84,552.87 L809.51,552.76 L809.18,552.57 L808.86,552.30 L808.55,551.96 L778.70,514.67 L778.43,514.29 L778.21,513.88 L778.04,513.45 L777.94,513.02 L777.90,512.62 L777.86,472.84 L777.90,472.48 L778.00,472.17 L778.17,471.94 L778.39,471.78 L778.66,471.71 L808.47,469.22 L808.78,469.24 L809.10,469.35Z" fill="none" stroke="#000" stroke-width="1"/>
<path d="M778.38,226.77 L784.78,226.27 L785.48,232.17 L778.38,234.17Z" fill="#fff" stroke="#000" stroke-width="1"/>
<path d="M784.78,225.27 L794.98,218.97 L800.68,218.97 L798.88,221.37 L793.98,225.77 L785.68,229.77Z" fill="#000"/>
<ellipse cx="773.48" cy="234.67" rx="3.2" ry="3.6" transform="rotate(-35 773.48 234.67)" fill="#000"/>
<rect x="774" y="235" width="1" height="1" fill="#fff"/>
<path d="M848.18,221.00 L854.58,220.50 L855.28,226.40 L848.18,228.40Z" fill="#fff" stroke="#000" stroke-width="1"/>
<path d="M854.58,219.50 L864.78,213.20 L870.48,213.20 L868.68,215.60 L863.78,220.00 L855.48,224.00Z" fill="#000"/>
<ellipse cx="843.28" cy="228.90" rx="3.2" ry="3.6" transform="rotate(-35 843.28 228.90)" fill="#000"/>
<rect x="844" y="230" width="1" height="1" fill="#fff"/>
<path d="M813.46,456.76 L819.86,456.26 L820.56,462.16 L813.46,464.16Z" fill="#fff" stroke="#000" stroke-width="1"/>
<path d="M819.86,455.26 L830.06,448.96 L835.76,448.96 L833.96,451.36 L829.06,455.76 L820.76,459.76Z" fill="#000"/>
<ellipse cx="808.56" cy="464.66" rx="3.2" ry="3.6" transform="rotate(-35 808.56 464.66)" fill="#000"/>
<rect x="809" y="465" width="1" height="1" fill="#fff"/>
<g shape-rendering="crispEdges" fill="#000">
<rect x="667" y="705" width="210" height="1"/>
<rect x="698" y="737" width="1" height="193"/>
<rect x="724" y="737" width="1" height="193"/>
<rect x="876" y="737" width="1" height="193"/>
<rect x="724" y="783" width="152" height="1"/>
<rect x="724" y="872" width="152" height="1"/>
<rect x="682" y="703" width="5" height="6"/><rect x="687" y="704" width="3" height="4"/><rect x="690" y="704" width="5" height="3"/>
<rect x="728" y="704" width="4" height="3"/><rect x="732" y="704" width="4" height="4"/><rect x="736" y="703" width="4" height="6"/>
<rect x="860" y="703" width="5" height="6"/><rect x="865" y="704" width="3" height="4"/><rect x="868" y="704" width="5" height="3"/>
</g>
<text x="710.8" y="702" font-size="22.6" text-anchor="middle" font-family="Liberation Sans, sans-serif">2</text>
<text x="799.4" y="702" font-size="22.6" text-anchor="middle" font-family="Liberation Sans, sans-serif">12</text>
<path d="M698,776 L694.5,775.2 L691.5,776.8 L687,783 L684,789 L681,795 L679,800 L677,806 L675,809 L673.5,812 L673.5,815 L675,815.5 L674.5,822 L674,830 L674,839 L673.5,842 L673.5,845 L675,845.5 L677,851 L679,857 L682,863 L686,871 L690,878 L694.5,880.5 L698,879" fill="none" stroke="#000" stroke-width="1"/>
<path d="M679.5,807 V815 L676,820 M679.5,840 V848 L676,843" fill="none" stroke="#000" stroke-width="1"/>
<path d="M724.0,805.6 L726.6,803.3 L729.5,807.4 M725.1,812.4 L728.0,822.6 M725.1,822.6 L728.0,812.4 M729.8,810.5 H735.7 M731.8,813.8 L735.4,824.7 M730.1,831.2 L733.3,844.4 M736.0,832 L739.0,843 M736.0,843 L739.0,832 M728.9,845.5 H734.5 M735.1,848.2 L738.6,853.2 L740.3,850.2 M747.5,805.6 L750.1,803.3 L753.0,807.4 M741.5,825.6 L744.8,813.6 M743.3,810.5 H746.8 M743.6,841.4 L746.8,831.2 M741.2,845.5 H745.1 M748.6,812.4 L751.5,822.6 M748.6,822.6 L751.5,812.4 M753.3,810.5 H759.2 M755.3,813.8 L758.9,824.7 M753.6,831.2 L756.8,844.4 M759.5,832 L762.5,843 M759.5,843 L762.5,832 M752.4,845.5 H758.0 M758.6,848.2 L762.1,853.2 L763.8,850.2 M771.0,805.6 L773.6,803.3 L776.5,807.4 M765.0,825.6 L768.3,813.6 M766.8,810.5 H770.3 M767.1,841.4 L770.3,831.2 M764.7,845.5 H768.6 M772.1,812.4 L775.0,822.6 M772.1,822.6 L775.0,812.4 M776.8,810.5 H782.7 M778.8,813.8 L782.4,824.7 M777.1,831.2 L780.3,844.4 M783.0,832 L786.0,843 M783.0,843 L786.0,832 M775.9,845.5 H781.5 M782.1,848.2 L785.6,853.2 L787.3,850.2 M794.5,805.6 L797.1,803.3 L800.0,807.4 M788.5,825.6 L791.8,813.6 M790.3,810.5 H793.8 M790.6,841.4 L793.8,831.2 M788.2,845.5 H792.1 M795.6,812.4 L798.5,822.6 M795.6,822.6 L798.5,812.4 M800.3,810.5 H806.2 M802.3,813.8 L805.9,824.7 M800.6,831.2 L803.8,844.4 M806.5,832 L809.5,843 M806.5,843 L809.5,832 M799.4,845.5 H805.0 M805.6,848.2 L809.1,853.2 L810.8,850.2 M818.0,805.6 L820.6,803.3 L823.5,807.4 M812.0,825.6 L815.3,813.6 M813.8,810.5 H817.3 M814.1,841.4 L817.3,831.2 M811.7,845.5 H815.6 M819.1,812.4 L822.0,822.6 M819.1,822.6 L822.0,812.4 M823.8,810.5 H829.7 M825.8,813.8 L829.4,824.7 M824.1,831.2 L827.3,844.4 M830.0,832 L833.0,843 M830.0,843 L833.0,832 M822.9,845.5 H828.5 M829.1,848.2 L832.6,853.2 L834.3,850.2 M841.4,805.6 L844.0,803.3 L846.9,807.4 M835.4,825.6 L838.8,813.6 M837.2,810.5 H840.8 M837.5,841.4 L840.8,831.2 M835.1,845.5 H839.0 M842.5,812.4 L845.4,822.6 M842.5,822.6 L845.4,812.4 M847.2,810.5 H853.1 M849.2,813.8 L852.8,824.7 M847.5,831.2 L850.8,844.4 M853.4,832 L856.4,843 M853.4,843 L856.4,832 M846.3,845.5 H851.9 M852.5,848.2 L856.0,853.2 L857.8,850.2 M864.9,805.6 L867.5,803.3 L870.4,807.4 M858.9,825.6 L862.2,813.6 M860.7,810.5 H864.2 M861.0,841.4 L864.2,831.2 M858.6,845.5 H862.5 M866.0,812.4 L868.9,822.6 M866.0,822.6 L868.9,812.4 M870.7,810.5 H876.6 M872.7,813.8 L876.3,824.7 M871.0,831.2 L874.2,844.4 M876.9,832 L879.9,843 M876.9,843 L879.9,832 M869.8,845.5 H875.4 M876.0,848.2 L879.5,853.2 L881.2,850.2 M888.4,805.6 L891.0,803.3 L893.9,807.4 M882.4,825.6 L885.7,813.6 M884.2,810.5 H887.7 M884.5,841.4 L887.7,831.2 M882.1,845.5 H886.0 M889.5,812.4 L892.4,822.6 M889.5,822.6 L892.4,812.4 M894.2,810.5 H900.1 M896.2,813.8 L899.8,824.7 M894.5,831.2 L897.7,844.4 M896.6,832 L899.6,843 M896.6,843 L899.6,832 M893.3,845.5 H898.9 M899.5,848.2 L903.0,853.2 L904.7,850.2 M911.9,805.6 L914.5,803.3 L917.4,807.4 M905.9,825.6 L909.2,813.6 M907.7,810.5 H911.2 M908.0,841.4 L911.2,831.2 M905.6,845.5 H909.5 M913.0,812.4 L915.9,822.6 M913.0,822.6 L915.9,812.4 M917.7,810.5 H923.6 M919.7,813.8 L923.3,824.7 M918.0,831.2 L921.2,844.4 M920.1,832 L923.1,843 M920.1,843 L923.1,832 M916.8,845.5 H922.4 M923.0,848.2 L926.5,853.2 L928.2,850.2 M935.4,805.6 L938.0,803.3 L940.9,807.4 M929.4,825.6 L932.7,813.6 M931.2,810.5 H934.7 M931.5,841.4 L934.7,831.2 M929.1,845.5 H933.0 M936.5,812.4 L939.4,822.6 M936.5,822.6 L939.4,812.4 M941.2,810.5 H947.1 M943.2,813.8 L946.8,824.7 M941.5,831.2 L944.7,844.4 M943.6,832 L946.6,843 M943.6,843 L946.6,832 M940.3,845.5 H945.9 M946.5,848.2 L950.0,853.2 L951.7,850.2 M958.9,805.6 L961.5,803.3 L964.4,807.4 M952.9,825.6 L956.2,813.6 M954.7,810.5 H958.2 M955.0,841.4 L958.2,831.2 M952.6,845.5 H956.5 M960.0,812.4 L962.9,822.6 M960.0,822.6 L962.9,812.4 M964.7,810.5 H970.6 M966.7,813.8 L970.3,824.7 M965.0,831.2 L968.2,844.4 M967.1,832 L970.1,843 M967.1,843 L970.1,832 M963.8,845.5 H969.4 M970.0,848.2 L973.5,853.2 L975.2,850.2 M982.4,805.6 L985.0,803.3 L987.9,807.4 M976.4,825.6 L979.7,813.6 M978.2,810.5 H981.7 M978.5,841.4 L981.7,831.2 M976.1,845.5 H980.0 M983.5,812.4 L986.4,822.6 M983.5,822.6 L986.4,812.4 M988.2,810.5 H994.1 M990.2,813.8 L993.8,824.7 M988.5,831.2 L991.7,844.4 M990.6,832 L993.6,843 M990.6,843 L993.6,832 M987.3,845.5 H992.9 M993.5,848.2 L997.0,853.2 L998.7,850.2 M1005.9,805.6 L1008.5,803.3 L1011.4,807.4 M999.9,825.6 L1003.2,813.6 M1001.7,810.5 H1005.2 M1002.0,841.4 L1005.2,831.2 M999.6,845.5 H1003.5 M1007.0,812.4 L1009.9,822.6 M1007.0,822.6 L1009.9,812.4 M1011.7,810.5 H1017.6 M1013.7,813.8 L1017.3,824.7 M1012.0,831.2 L1015.2,844.4 M1014.1,832 L1017.1,843 M1014.1,843 L1017.1,832 M1010.8,845.5 H1016.4 M1017.0,848.2 L1020.5,853.2 L1022.2,850.2 M706,811 L710,822 M720,809 L723.5,816 M717,821 L719.6,827 M701,806 L703,808 M705,806 L709.5,808.5 M709,829 L710,842 M711,829 L715,843 M714.5,833 L714,845 L719.5,845.5 M721.5,831 L723,836 M703,850 L706,848 M713,848 L714,850 L716.5,851 M710,845 L712,848 M679,799 L686,802 M685,817 L692,820 M679,807 L684,809 M690,808 L697,812 M686,836 L693,834 M684,843 L690,841 M681,849 L687,847 M692,852 L697,850 M690,865 L697,863" fill="none" stroke="#8a8a8a" stroke-width="1"/>
<path d="M724,801.5H876" stroke="#8a8a8a" stroke-width="1" stroke-dasharray="9,6" stroke-dashoffset="3" fill="none"/>
<path d="M724,854.5H876" stroke="#8a8a8a" stroke-width="1" stroke-dasharray="9,6" stroke-dashoffset="5" fill="none"/>
<path d="M706,790.5H715 M721,790.5H724 M698,866.5H701.5 M708,866.5H717 M706,906.5H715 M720,906.5H724" stroke="#8a8a8a" stroke-width="1" fill="none"/>
</svg></body></html>
